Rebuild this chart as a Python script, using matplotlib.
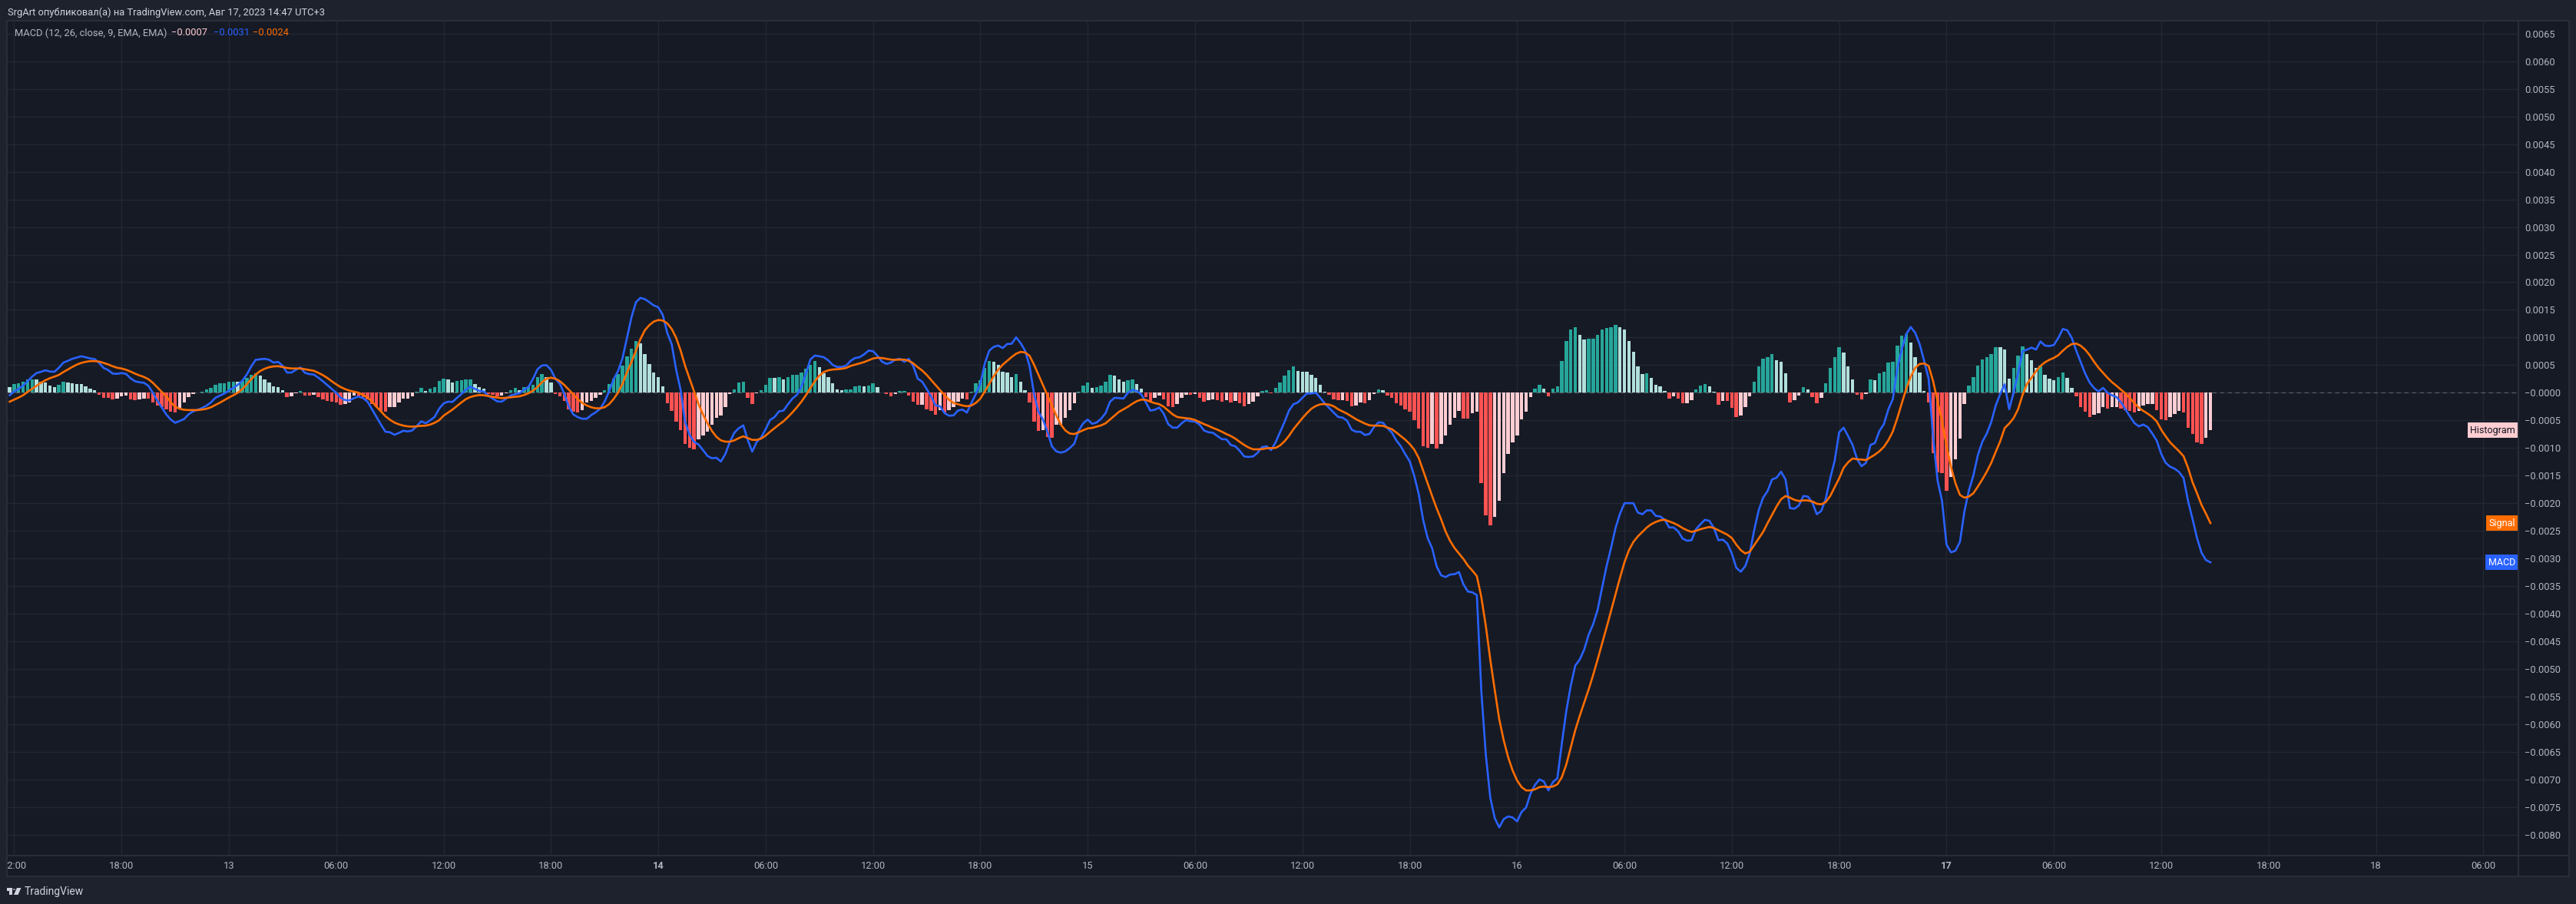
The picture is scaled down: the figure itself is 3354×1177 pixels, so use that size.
import matplotlib
matplotlib.use("Agg")
import matplotlib.pyplot as plt
import matplotlib.transforms as mtransforms
from matplotlib.patches import Rectangle, Polygon, Circle
from matplotlib.lines import Line2D
from matplotlib.ticker import FuncFormatter, FixedLocator
import numpy as np

plt.rcParams['font.family'] = ['Roboto', 'DejaVu Sans']

W, H, DPI = 3355, 1177, 100
SCALE = 1e-4  # all series below are in units of 0.0001

# 15-minute bars, first bar = Apr 12 11:45, last bar = Apr 17 14:45
MACD = [
    -0.46, 0.23, 0.69, 1.29, 2.08, 2.91, 3.55, 3.79, 4.06, 3.83,
    3.79, 4.52, 5.45, 5.77, 6.14, 6.37, 6.6, 6.42, 6.19, 6.09,
    5.4, 4.48, 4.11, 3.46, 3.42, 3.55, 3.42, 2.63, 2.08, 1.89,
    1.8, 1.25, 0, -1.43, -2.68, -3.92, -4.85, -5.45, -5.12, -4.76,
    -3.92, -3.37, -3.09, -2.77, -2.35, -1.75, -0.92, -0.51, -0.14, 0.37,
    0.88, 1.43, 2.17, 3.28, 4.76, 5.96, 6.05, 6.14, 5.96, 5.45,
    5.59, 4.89, 3.65, 3.65, 4.16, 4.57, 3.6, 3.37, 3.28, 2.72,
    2.08, 1.39, 0.69, 0, -0.92, -1.34, -1.39, -0.97, -0.69, -0.97,
    -1.62, -3.0, -4.39, -5.77, -7.06, -7.16, -7.62, -7.29, -6.88, -7.02,
    -6.83, -6.05, -5.17, -5.54, -4.99, -4.39, -2.91,
    -1.94, -1.62, -1.66, -0.92, -0.23, 0.55, 1.11, 0.69, 0.32, 0.23,
    -0.55, -1.06, -1.57, -1.62, -1.06, -0.51, -0.28, -0.09, 0.55, 1.06,
    2.54, 4.25, 4.94, 4.99, 4.16, 2.54, 1.62, -0.23, -2.54, -3.92,
    -4.43, -4.71, -4.71, -4.06, -3.55, -2.91, -1.62, 0.23, 2.4, 3.92,
    6.23, 9.93, 13.62, 16.39, 17.17, 16.94, 16.39, 15.79, 15.47, 14.08,
    10.85, 8.77, 4.16, 0.46, -5.31, -7.62, -8.91, -9.37, -10.39, -11.45,
    -11.87, -11.77, -12.47, -11.08, -8.91, -7.25, -6.42, -5.91, -8.54, -10.66,
    -8.91, -8.08, -6.6, -4.94, -4.39, -3.37, -3.23, -2.08, -1.06, -0.37,
    1.06, 3.46, 6.0, 6.74, 6.6, 6.42, 5.86, 5.03, 4.66, 4.66,
    4.89, 5.77, 6.28, 6.42, 6.93, 7.62, 7.53, 6.69, 5.63, 5.22,
    5.45, 6.0, 6.14, 5.59,
    6.14, 4.85, 2.54, 1.99, 0.69, -0.69, -2.31, -2.45, -3.69, -4.16,
    -4.11, -3.23, -3.05, -3.6, -1.85, -0.23, 1.62, 5.31, 7.62, 8.31,
    8.54, 8.08, 8.82, 8.86, 10.02, 9.0, 7.62, 4.85, -0.23, -3.46,
    -4.85, -7.06, -9.7, -10.62, -10.85, -10.62, -10.02, -9.23, -6.83, -5.54,
    -4.85, -5.63, -5.4, -4.71, -3.69, -1.62, -0.92, -0.97, -1.06, 0,
    0.51, 0.32, -0.32, -1.75, -3.23, -3.09, -2.68, -3.79, -5.68, -6.33,
    -6.33, -5.54, -4.94, -5.17, -5.22, -5.77, -6.83, -7.16, -7.25, -7.85,
    -8.4, -8.45, -9.46, -9.7, -10.53, -11.54, -11.63, -11.54, -10.85, -9.83,
    -9.7, -10.39, -9.0, -7.16, -5.31, -3.23, -2.08, -1.75, -0.92, -0.14,
    -0.14, 0, -0.92, -1.94, -2.77, -3.6, -4.39, -4.52, -5.08, -6.69,
    -7.07, -7.07, -7.66, -7.46, -6.22, -5.37, -5.43, -6.41, -7.2, -8.64,
    -9.69, -11.13, -12.43, -15.05, -18.32, -23.04, -26.31, -28.14, -31.41, -33.05,
    -33.38, -32.92, -32.85, -32.46, -34.69, -36.0, -36.13, -36.65, -54.0, -65.5,
    -73.3, -77.0, -78.7, -77.2, -76.7, -76.9, -77.6, -75.9, -75.1, -72.6,
    -71.0, -70.0, -70.4, -72.0, -70.5, -69.8, -63.5, -57.6, -53.0, -49.4,
    -48.3, -46.5, -43.8, -41.9, -39.3, -35.3, -31.4, -28.1, -24.5, -21.9,
    -20.0, -20.0, -20.0, -21.7, -22.0, -21.3, -21.3, -22.3, -22.4, -23.0,
    -24.4, -24.4, -25.1, -26.4, -26.8, -26.7, -24.7, -23.8, -23.0, -23.2,
    -24.5, -26.7, -26.6, -27.3, -29.1, -31.7, -32.4, -31.4, -29.1, -24.9,
    -21.3, -19.0, -17.8, -15.7, -15.4, -14.3, -15.7, -20.9, -21.0,
    -20.4, -18.7, -18.8, -19.85, -22.0, -21.4, -19.2, -15.5, -12.3, -7.16,
    -6.33, -7.85, -9.46, -12.0, -13.3, -12.7, -9.46, -9.1, -6.93, -5.68,
    -3.0, -1.15, 4.39, 7.85, 10.6, 11.9, 10.85, 8.77, 5.77, 2.54,
    -8.08, -15.9, -19.6, -27.5, -28.9, -28.6, -27.0, -21.5, -17.7, -15.0,
    -11.3, -8.9, -7.39, -5.31, -2.31, -0.23, 1.52, -3.0, 0, 3.55,
    7.53, 7.8, 8.17, 7.8, 9.28, 8.54, 8.45, 8.63, 9.93, 11.54,
    11.31, 9.93, 7.62, 5.54, 3.46, 1.85, 0.83, 0.23, 0.88, 0,
    -0.46, -0.78, -1.71, -3.0, -4.29, -5.49, -6.09, -5.77, -6.23, -7.39,
    -8.68, -11.08, -12.7, -13.39, -13.76, -14.36, -15.47, -19.6, -22.85, -26.3,
    -28.95, -30.3, -30.7,
]

SIGNAL = [
    -1.62, -1.25, -0.88, -0.46, 0.14, 0.69, 1.25, 1.8, 2.26, 2.63,
    2.91, 3.23, 3.74, 4.2, 4.66, 5.08, 5.4, 5.59, 5.72, 5.72,
    5.63, 5.4, 5.12, 4.8, 4.52, 4.39, 4.16, 3.83, 3.46, 3.14,
    2.86, 2.45, 1.8, 0.97, 0.14, -0.69, -1.71, -2.54, -2.91, -3.09,
    -3.14, -3.14, -3.14, -3.05, -2.91, -2.63, -2.22, -1.8, -1.34, -0.88,
    -0.46, 0, 0.65, 1.52, 2.45, 3.28, 3.92, 4.34, 4.62, 4.76,
    4.8, 4.66, 4.48, 4.39, 4.39, 4.39, 4.25, 4.11, 3.97, 3.6,
    3.19, 2.68, 2.08, 1.52, 1.02, 0.65, 0.37, 0.18, 0, -0.42,
    -0.88, -1.62, -2.54, -3.37, -4.25, -4.89, -5.4, -5.72, -5.96, -6.09,
    -6.14, -6.09, -6.0, -5.96, -5.77, -5.45, -4.99,
    -4.16, -3.6, -3.05, -2.4, -1.75, -1.15, -0.78, -0.55, -0.42, -0.46,
    -0.6, -0.74, -0.88, -0.97, -0.92, -0.83, -0.74, -0.65, -0.42, -0.09,
    0.37, 1.06, 1.89, 2.54, 2.72, 2.54, 2.08, 1.39, 0.55, -0.28,
    -1.15, -1.85, -2.31, -2.63, -2.82, -2.82, -2.63, -2.08, -1.15, 0,
    1.62, 3.69, 5.54, 7.62, 9.7, 11.31, 12.24, 12.88, 13.16, 13.07,
    12.56, 11.54, 9.93, 7.62, 4.85, 2.54, 0.23, -2.08, -3.92, -5.54,
    -6.93, -7.99, -8.63, -8.86, -8.86, -8.63, -8.22, -7.89, -8.22, -8.54,
    -8.54, -8.31, -7.76, -7.06, -6.42, -5.77, -5.17, -4.39, -3.55, -2.63,
    -1.62, -0.46, 0.83, 2.08, 3.09, 3.74, 4.06, 4.2, 4.25, 4.34,
    4.48, 4.85, 5.08, 5.31, 5.54, 5.86, 6.19, 6.33, 6.28, 6.14,
    6.0, 5.96, 6.0, 6.0,
    5.77, 5.31, 4.62, 4.02, 3.23, 2.31, 1.39, 0.46, -0.46, -1.29,
    -1.85, -2.08, -2.31, -2.45, -2.31, -1.85, -1.06, 0.23, 1.62, 3.0,
    4.16, 5.08, 5.77, 6.46, 7.06, 7.39, 7.29, 6.69, 5.08, 3.23,
    1.39, -0.46, -2.31, -4.16, -5.77, -6.83, -7.39, -7.48, -7.16, -6.79,
    -6.46, -6.37, -6.14, -5.91, -5.54, -4.85, -4.16, -3.46, -3.0, -2.54,
    -1.99, -1.52, -1.25, -1.29, -1.62, -1.89, -2.08, -2.54, -3.23, -3.92,
    -4.39, -4.52, -4.62, -4.71, -4.94, -5.31, -5.68, -6.0, -6.37, -6.69,
    -7.06, -7.48, -7.85, -8.31, -8.91, -9.46, -9.93, -10.25, -10.25, -10.2,
    -10.06, -10.02, -10.0, -9.55, -8.8, -7.8, -6.6, -5.6, -4.6, -3.7,
    -2.9, -2.4, -2.1, -2.05, -2.15, -2.45, -3.0, -3.4, -3.8, -4.3,
    -4.8, -5.2, -5.6, -5.9, -5.96, -5.96, -6.0, -6.3, -6.6, -7.2,
    -7.85, -8.5, -9.3, -10.3, -11.8, -14.1, -16.4, -18.7, -20.9, -22.9,
    -25.1, -26.8, -28.1, -29.1, -30.1, -31.3, -32.2, -33.2, -37.0, -42.2,
    -48.3, -53.8, -59.1, -62.9, -66.0, -68.4, -70.2, -71.4, -72.0, -72.0,
    -71.8, -71.4, -71.3, -71.4, -71.3, -70.9, -69.6, -67.3, -64.2, -61.1,
    -58.5, -56.1, -53.7, -51.1, -48.3, -45.4, -42.5, -39.5, -36.5, -33.5,
    -30.7, -28.5, -27.0, -26.0, -25.2, -24.4, -23.8, -23.4, -23.1, -23.0,
    -23.3, -23.6, -24.0, -24.5, -24.9, -25.2, -25.0, -24.7, -24.5, -24.3,
    -24.5, -24.9, -25.3, -25.7, -26.3, -27.5, -28.5, -29.1, -28.8, -27.6,
    -26.4, -25.2, -23.6, -22.1, -20.6, -19.3, -18.7, -19.0, -19.4,
    -19.6, -19.5, -19.5, -19.7, -20.1, -20.2, -19.8, -18.7, -17.1, -15.5,
    -13.6, -12.6, -11.9, -12.05, -12.1, -12.2, -11.7, -11.2, -10.6, -9.8,
    -8.6, -7.0, -4.6, -1.9, 0.7, 2.9, 4.5, 5.2, 5.3, 4.85,
    2.1, -1.5, -5.15, -9.6, -13.4, -16.4, -18.5, -19.0, -18.8, -18.2,
    -17.0, -15.7, -14.3, -12.7, -10.7, -8.8, -6.4, -5.6, -4.6, -3.0,
    -0.4, 1.6, 2.7, 3.9, 4.85, 5.5, 5.96, 6.3, 6.8, 7.6,
    8.3, 8.8, 8.9, 8.5, 7.8, 6.8, 5.6, 4.5, 3.6, 2.7,
    1.9, 1.25, 0.55, -0.14, -0.97, -1.9, -2.7, -3.3, -3.8, -4.4,
    -5.2, -6.7, -7.9, -9.0, -9.8, -10.6, -11.5, -13.6, -16.2, -18.2,
    -20.3, -21.9, -23.6,
]

HIST = [
    1.06, 1.57, 1.75, 2.03, 2.35, 2.45, 2.44, 1.94, 1.89, 1.34,
    1.06, 1.48, 2.03, 1.85, 1.71, 1.62, 1.6, 1.2, 0.78, 0.5,
    -0.32, -0.97, -0.99, -1.25, -1.06, -0.69, -0.51, -1.15, -1.39, -1.2,
    -1.02, -1.11, -1.8, -2.35, -2.63, -3.05, -3.46, -3.55, -2.68, -1.8,
    -0.83, -0.18, 0.09, 0.18, 0.65, 0.92, 1.48, 1.71, 1.75, 1.94,
    2.03, 2.0, 2.17, 2.63, 3.28, 3.55, 3.14, 2.45, 1.89, 1.2,
    1.06, 0.5, -0.83, -0.69, -0.05, 0.37, -0.55, -0.58, -0.41, -0.83,
    -1.25, -1.52, -1.66, -1.8, -2.22, -2.03, -1.75, -0.51, -0.69, -0.83,
    -1.25, -2.03, -2.63, -3.23, -3.46, -2.63, -2.6, -1.8, -1.11, -1.08,
    -0.69, 0.18, 0.92, 0.37, 0.78, 1.06, 2.17, 2.54, 2.45, 1.89,
    2.17, 2.26, 2.4, 2.45, 1.57, 1.02, 0.78, -0.18, -0.42, -0.6,
    -0.55, -0.05, 0.51, 0.83, 0.51, 1.06, 1.15, 1.48, 2.86, 3.32,
    2.86, 1.8, -0.28, -0.69, -1.52, -3.05, -3.42, -3.6, -3.19, -1.71,
    -1.48, -0.97, -0.37, 0.51, 1.62, 2.59, 3.42, 4.94, 6.6, 7.94,
    9.33, 8.91, 7.02, 5.22, 3.65, 2.82, 1.15, -1.85, -3.23, -5.31,
    -6.83, -9.33, -9.97, -10.3, -8.45, -7.71, -7.02, -5.77, -4.52, -4.16,
    -2.54, -0.28, 0.65, 1.8, 2.03, -0.88, -2.08, -0.05, 0.46, 1.48,
    2.68, 2.63, 2.86, 2.45, 2.86, 3.23, 3.28, 3.69, 4.39, 5.03,
    5.77, 4.66, 3.46, 2.77, 1.75, 0.65, 0.51, 0.55, 0.65, 1.2,
    1.34, 1.15, 1.34, 1.75, 1.06, 0.02, -0.18, -0.69, -0.23, 0.28,
    0.32, -0.55, -1.57, -2.22, -2.2, -2.95, -3.32, -3.92, -3.19, -3.6,
    -3.19, -2.54, -1.62, -1.06, -1.15, 0.23, 1.75, 2.31, 4.52, 5.77,
    5.63, 4.99, 3.83, 3.69, 2.86, 3.32, 1.94, 0.51, -1.71, -5.31,
    -6.93, -6.83, -8.08, -8.17, -5.86, -5.77, -4.48, -3.09, -1.85, 0.23,
    1.29, 1.85, 0.92, 1.06, 1.29, 2.03, 3.28, 3.09, 2.45, 2.03,
    2.31, 2.45, 1.62, 0.78, -0.78, -1.62, -0.97, -0.46, -1.25, -2.45,
    -2.54, -2.08, -0.97, -0.32, -0.35, -0.3, -0.88, -1.57, -1.39, -1.15,
    -1.29, -1.66, -1.29, -1.8, -1.48, -1.85, -2.4, -1.99, -1.57, -0.69,
    0.32, 0.51, -0.14, 0.92, 1.89, 3.09, 4.02, 4.8, 3.97, 3.83,
    3.8, 3.19, 2.68, 1.48, 0.23, -0.37, -1.15, -1.39, -1.3, -1.44,
    -2.4, -2.29, -1.83, -1.9, -1.31, -0.26, 0.65, 0.52, -0.46, -0.92,
    -1.96, -2.29, -3.08, -3.4, -4.91, -6.54, -9.69, -9.95, -9.29, -10.08,
    -9.29, -7.72, -5.82, -4.58, -3.34, -4.65, -4.7, -3.73, -3.47, -16.36,
    -22.25, -23.95, -22.51, -19.57, -14.53, -11.06, -8.97, -7.72, -4.78, -3.4,
    -0.79, 0.79, 1.44, 0.79, -0.65, 0.79, 1.11, 5.69, 9.42, 11.39,
    11.91, 10.47, 9.69, 9.72, 9.82, 10.41, 11.39, 11.78, 11.8, 12.24,
    11.91, 11.39, 9.29, 7.46, 4.71, 3.4, 3.45, 2.75, 1.44, 1.11,
    0.26, -1.05, -0.72, -1.05, -1.9, -1.88, -1.37, 0.59, 1.31, 1.51,
    1.11, 0.13, -2.16, -1.44, -1.51, -2.75, -4.38, -4.12, -2.55, -0.65,
    1.96, 4.71, 6.22, 6.41, 6.94, 5.82, 5.56, 3.53, -1.7, -1.4,
    -0.55, 1.06, 0.65, -0.83, -1.85, -0.97, 1.75, 4.52, 6.46, 8.26,
    7.29, 4.71, 2.45, -0.42, -1.15, -0.23, 2.45, 2.31, 3.55, 3.83,
    5.49, 5.63, 8.54, 10.34, 10.6, 9.1, 6.46, 3.69, 0.37, -1.8,
    -10.94, -14.45, -14.54, -17.77, -15.24, -12.1, -8.36, -2.08, 1.34, 2.86,
    4.85, 6.05, 6.46, 7.02, 8.26, 8.2, 7.85, 2.59, 4.52, 6.74,
    8.4, 7.02, 5.91, 4.52, 4.85, 3.28, 2.59, 2.31, 2.86, 3.69,
    2.72, 0.92, -0.69, -2.54, -3.46, -4.34, -4.02, -3.74, -2.6, -2.91,
    -2.63, -2.6, -2.82, -3.19, -3.23, -3.6, -3.32, -2.35, -2.08, -2.05,
    -3.19, -4.85, -4.9, -4.43, -3.83, -3.32, -3.6, -6.37, -7.48, -9.0,
    -9.28, -8.17, -6.8,
]

# time scale: one label every 24 bars (6 h), first at Apr 12 12:00 (bar 1)
TIME_LABELS = ["12:00", "18:00", "13", "06:00", "12:00", "18:00", "14", "06:00",
               "12:00", "18:00", "15", "06:00", "12:00", "18:00", "16", "06:00",
               "12:00", "18:00", "17", "06:00", "12:00", "18:00", "18", "06:00"]
BOLD_LABELS = ["14", "17"]

HEADER = "SrgArt опубликовал(а) на TradingView.com, Авг 17, 2023 14:47 UTC+3"
STUDY = "MACD (12, 26, close, 9, EMA, EMA)"

# colours
BG_OUT = '#1e222d'
BG_PANE = '#161a25'
GRID = '#232733'
BORDER = '#2a2e39'
TEXT = '#b2b5be'
MACD_C = '#2962ff'
SIGNAL_C = '#ff6d00'
GROW_ABOVE, FALL_ABOVE = '#26a69a', '#b2dfdb'
GROW_BELOW, FALL_BELOW = '#ffcdd2', '#ff5252'


def fx(px):
    return px / W


def fy(py):
    return 1 - py / H


def fmt(v):
    return ('−' if v < 1e-12 else '') + f"{abs(v):.4f}"


macd = np.array(MACD) * SCALE
signal = np.array(SIGNAL) * SCALE
hist = np.array(HIST) * SCALE
x = np.arange(len(hist))

hist_colors = []
for i, h in enumerate(hist):
    prev = hist[i - 1] if i else h
    if h >= 0:
        hist_colors.append(GROW_ABOVE if prev < h else FALL_ABOVE)
    else:
        hist_colors.append(GROW_BELOW if prev < h else FALL_BELOW)

fig = plt.figure(figsize=(W / DPI, H / DPI), dpi=DPI, facecolor=BG_OUT)

# chart frame (pane + scales)
fig.add_artist(Rectangle((fx(9), fy(1141)), (3345 - 9) / W, (1141 - 27) / H,
                         transform=fig.transFigure, facecolor=BG_PANE,
                         edgecolor=BORDER, linewidth=1.4, zorder=0))
fig.add_artist(Line2D([fx(3279), fx(3279)], [fy(27), fy(1141)], transform=fig.transFigure,
                      color=BORDER, linewidth=1.4, zorder=1))
fig.add_artist(Line2D([fx(9), fx(3345)], [fy(1114), fy(1114)], transform=fig.transFigure,
                      color=BORDER, linewidth=1.4, zorder=1))

XMIN, XMAX = -0.45, 560.85
YMIN, YMAX = -8.38e-3, 6.734e-3

ax = fig.add_axes([fx(10), fy(1114), (3279 - 10) / W, (1114 - 27) / H])
ax.set_facecolor('none')
ax.set_xlim(XMIN, XMAX)
ax.set_ylim(YMIN, YMAX)
for s in ax.spines.values():
    s.set_visible(False)

tick_pos = [1 + 24 * k for k in range(len(TIME_LABELS))]
ax.xaxis.set_major_locator(FixedLocator(tick_pos))
ax.yaxis.set_major_locator(FixedLocator([k * 0.0005 for k in range(-16, 14)]))
ax.grid(True, color=GRID, linewidth=1.0, zorder=0)
ax.set_axisbelow(True)
ax.tick_params(axis='x', length=0, labelbottom=False)
ax.yaxis.tick_right()
ax.yaxis.set_major_formatter(FuncFormatter(lambda v, _: fmt(v)))
ax.tick_params(axis='y', length=0, pad=6, labelsize=9.3, labelcolor=TEXT)

ax.axhline(0, color='#5d606b', linewidth=0.8, linestyle=(0, (5, 4)), zorder=1)
ax.bar(x, hist, width=0.76, color=hist_colors, linewidth=0, zorder=2)
ax.plot(x, macd, color=MACD_C, linewidth=1.9, zorder=3, solid_joinstyle='round')
ax.plot(x, signal, color=SIGNAL_C, linewidth=1.9, zorder=4, solid_joinstyle='round')

# name labels at the right edge of the pane
lab_tr = mtransforms.blended_transform_factory(ax.transAxes, ax.transData)
lab_x = 1 - 4 / (3279 - 10)
for name, val, fc, tc in [("Histogram", hist[-1], hist_colors[-1], '#131722'),
                          ("Signal", signal[-1], SIGNAL_C, 'white'),
                          ("MACD", macd[-1], MACD_C, 'white')]:
    ax.text(lab_x, val, name, transform=lab_tr, ha='right', va='center',
            fontsize=9, color=tc, zorder=6,
            bbox=dict(boxstyle='square,pad=0.28', facecolor=fc, edgecolor='none'))

# time scale
ax_t = fig.add_axes([fx(10), fy(1141), (3279 - 10) / W, 27 / H])
ax_t.set_xlim(XMIN, XMAX)
ax_t.set_ylim(0, 1)
ax_t.axis('off')
for pos, lab in zip(tick_pos, TIME_LABELS):
    ax_t.text(pos, 0.5, lab, ha='center', va='center', fontsize=9.3, color=TEXT,
              fontweight='bold' if lab in BOLD_LABELS else 'normal', clip_on=True)

# header and study legend
fig.text(fx(10), fy(16), HEADER, fontsize=9.3, color='#d1d4dc', va='center', ha='left')
fig.text(fx(19), fy(43), STUDY, fontsize=9.3, color=TEXT, va='center', ha='left')
for px, val, col in [(223, hist[-1], hist_colors[-1]), (278, macd[-1], MACD_C),
                     (329.5, signal[-1], SIGNAL_C)]:
    fig.text(fx(px), fy(43), fmt(val), fontsize=9.3, color=col, va='center', ha='left')

# footer logo
logo_c = '#d1d4dc'
fig.add_artist(Polygon([(fx(9), fy(1156)), (fx(16), fy(1156)), (fx(16), fy(1165)),
                        (fx(12.5), fy(1165)), (fx(12.5), fy(1159.5)), (fx(9), fy(1159.5))],
                       closed=True, transform=fig.transFigure, facecolor=logo_c, edgecolor='none'))
fig.add_artist(Polygon([(fx(22), fy(1156)), (fx(27.5), fy(1156)), (fx(23.5), fy(1165)),
                        (fx(18), fy(1165))],
                       closed=True, transform=fig.transFigure, facecolor=logo_c, edgecolor='none'))
fig.add_artist(Circle((fx(18.3), fy(1158)), 1.8 / W, transform=fig.transFigure,
                      facecolor=logo_c, edgecolor='none'))
fig.text(fx(32), fy(1160.5), "TradingView", fontsize=10, color=logo_c, va='center', ha='left')

fig.savefig('out.png', dpi=DPI, facecolor=fig.get_facecolor())
